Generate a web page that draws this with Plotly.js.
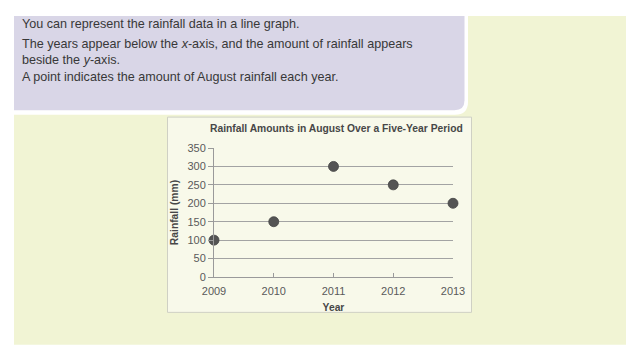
<!DOCTYPE html>
<html>
<head>
<meta charset="utf-8">
<script src="https://cdn.plot.ly/plotly-3.0.1.min.js"></script>
<style>
  html, body { margin: 0; padding: 0; background: #ffffff; }
  #chart { width: 640px; height: 360px; }
</style>
</head>
<body>
<div id="chart"></div>
<script>
// ---- data ----
const years = [2009, 2010, 2011, 2012, 2013];
const rainfall = [100, 150, 300, 250, 200];
const yTicks = [0, 50, 100, 150, 200, 250, 300, 350];
const introLines = [
  "You can represent the rainfall data in a line graph.",
  "The years appear below the <i>x</i>-axis, and the amount of rainfall appears<br>beside the <i>y</i>-axis.",
  "A point indicates the amount of August rainfall each year."
];
const chartTitle = "Rainfall Amounts in August Over a Five-Year Period";
const xTitle = "Year";
const yTitle = "Rainfall (mm)";

// ---- layout geometry (pixels) ----
const W = 640, H = 360;
const L = 214, R = 453, T = 147.5, B = 277;
const PW = R - L, PH = B - T;
const px = x => (x - L) / PW;
const py = y => (B - y) / PH;

function rectShape(x0, y0, x1, y1, fill, line) {
  return {type: 'rect', xref: 'paper', yref: 'paper', layer: 'below',
    x0: px(x0), x1: px(x1), y0: py(y1), y1: py(y0),
    fillcolor: fill, line: line || {width: 0}};
}
function roundBR(x0, y0, x1, y1, r, fill) {
  const rx = r / PW, ry = r / PH;
  const X0 = px(x0), X1 = px(x1), Y0 = py(y0), Y1 = py(y1);
  const path = `M ${X0},${Y0} L ${X1},${Y0} L ${X1},${Y1 + ry} Q ${X1},${Y1} ${X1 - rx},${Y1} L ${X0},${Y1} Z`;
  return {type: 'path', xref: 'paper', yref: 'paper', layer: 'below', path: path,
    fillcolor: fill, line: {width: 0}};
}

const shapes = [
  rectShape(14, 15, 626, 345, '#f1f4d4'),
  roundBR(14, 15, 468, 114, 13, '#ffffff'),
  roundBR(14, 15, 464.5, 109.5, 10, '#d9d6e7'),
  rectShape(167.5, 116.5, 471.5, 312.5, '#f8f9ea', {color: '#cfd0c4', width: 1})
];

const lineY = [23.5, 50.8, 76];
const annotations = introLines.map((t, i) => ({
  text: t, xref: 'paper', yref: 'paper', x: px(20), y: py(lineY[i]),
  xanchor: 'left', yanchor: 'middle', showarrow: false, align: 'left',
  font: {family: 'Liberation Sans, Arial, sans-serif', size: 12.6, color: '#383838'}
}));
annotations.push({
  text: '<b>' + chartTitle + '</b>', xref: 'paper', yref: 'paper',
  x: px(336.5), y: py(128), xanchor: 'center', yanchor: 'middle', showarrow: false,
  font: {family: 'Liberation Sans, Arial, sans-serif', size: 10.3, color: '#474747'}
});

const trace = {
  type: 'scatter', mode: 'markers', x: years, y: rainfall, cliponaxis: false,
  marker: {size: 10, color: '#545454', line: {color: '#444444', width: 0.8}},
  hoverinfo: 'skip'
};

const tickFont = {family: 'Liberation Sans, Arial, sans-serif', size: 11, color: '#5a5a5a'};
const titleFont = {family: 'Liberation Sans, Arial, sans-serif', size: 10.3, color: '#474747'};

const layout = {
  width: W, height: H,
  margin: {l: L, r: W - R, t: T, b: H - B, pad: 0},
  paper_bgcolor: '#ffffff',
  plot_bgcolor: 'rgba(0,0,0,0)',
  showlegend: false,
  shapes: shapes,
  annotations: annotations,
  xaxis: {
    range: [years[0], years[years.length - 1]],
    tickvals: years, ticktext: years.map(String),
    showgrid: false, zeroline: false,
    showline: true, linecolor: '#9a9a9a', linewidth: 1,
    ticks: 'inside', ticklen: 4, tickcolor: '#9a9a9a',
    ticklabelstandoff: 4,
    tickfont: tickFont,
    title: {text: '<b>' + xTitle + '</b>', font: titleFont, standoff: 7},
    fixedrange: true
  },
  yaxis: {
    range: [0, 350],
    tickvals: yTicks, ticktext: yTicks.map(String),
    showgrid: true, gridcolor: '#a3a3a3', gridwidth: 1,
    zeroline: false,
    showline: true, linecolor: '#9a9a9a', linewidth: 1,
    ticks: 'outside', ticklen: 5, tickcolor: '#9a9a9a',
    tickfont: tickFont,
    title: {text: '<b>' + yTitle + '</b>', font: titleFont, standoff: 6},
    fixedrange: true
  }
};

Plotly.newPlot('chart', [trace], layout, {displayModeBar: false, staticPlot: true});
</script>
</body>
</html>
